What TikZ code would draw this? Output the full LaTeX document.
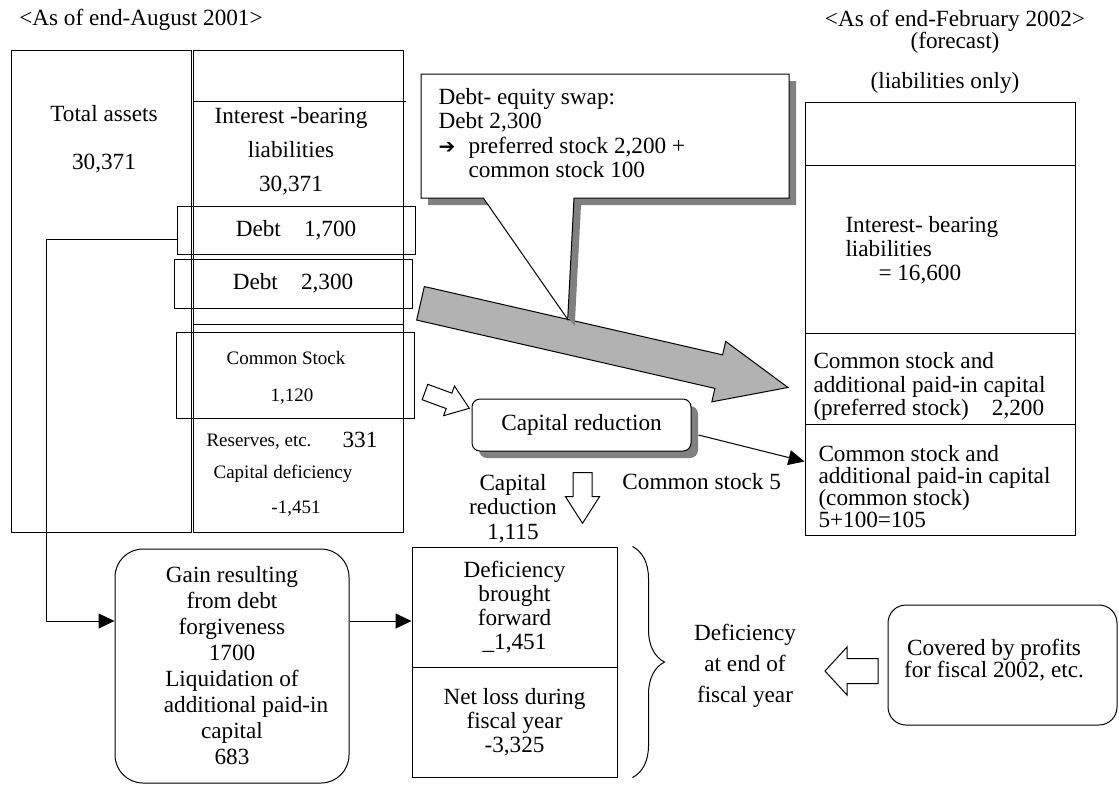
\documentclass[tikz,border=0pt]{standalone}
\usepackage{fontspec}
\setmainfont{Liberation Serif}
\newfontfamily\arrowfont{DejaVu Sans}
\usetikzlibrary{positioning,shadows,arrows.meta,decorations.pathreplacing}
\tikzset {
    cell/.style={
        draw=black,
        rectangle, % plain frame
        inner sep=0pt,
        align=center,
    },
    txt/.style={
        inner sep=0pt,
        align=center,
    },
    smalltext/.style={
        font=\fontsize{9.5}{11}\selectfont,
    },
    roundbox/.style={
        draw=black,
        fill=white,
        rectangle,
        inner sep=0pt,
        align=center,
    },
    shadowbox/.style={
        draw=black,
        fill=white,
        rectangle,
        rounded corners=4pt,
        inner sep=0pt,
        align=center,
        drop shadow={shadow xshift=3.5pt, shadow yshift=-3.5pt, fill=black!50, opacity=1},
    },
    hollow/.style={
        draw=black,
        fill=white,
    },
    conn/.style={
        draw=black,
        ->,
    },
}

\begin{document}
\begin{tikzpicture}
[x=0.5pt, y=-0.5pt, line width=0.5pt, font=\fontsize{11.6}{11.75}\selectfont, >={Triangle[length=8pt,width=7.5pt]}]
\useasboundingbox (0,0) rectangle (1119,784);

% headings
\node[txt] (titleL) at (141,20) {<As of end-August 2001>};
\node[txt, font=\fontsize{11.6}{11.25}\selectfont] (titleR) at (955,32) {<As of end-February 2002>\\(forecast)};
\node[txt] (liabonly) at (945,83) {(liabilities only)};

% balance sheet, end-August 2001
\node[cell, minimum width=90pt, minimum height=241pt] (assets) at (101,291) {};
\node[cell, minimum width=105pt, minimum height=241pt] (liab) at (298,291) {};
\draw (liab.west |- 0,101) -- ([xshift=1pt]liab.east |- 0,101);
\draw (liab.west |- 0,324) -- (liab.east |- 0,324);
\node[txt, font=\fontsize{11.6}{24}\selectfont] (totassets) at (104,139) {Total assets\\30,371};
\node[txt, font=\fontsize{11.6}{17}\selectfont] (ibl) at (291,151) {Interest -bearing\\liabilities\\30,371};
\node[cell, minimum width=119pt, minimum height=24pt] (debtA) at (296,230) {Debt\quad 1,700};
\node[cell, minimum width=119pt, minimum height=24.5pt] (debtB) at (293,283.5) {Debt\quad 2,300};
\node[cell, minimum width=119pt, minimum height=43pt] (comstk) at (295,375) {};
\node[txt, smalltext] (comstklbl) at (286,358) {Common Stock};
\node[txt, smalltext] (comstkval) at (292,397) {1,120};
\node[txt, smalltext, anchor=west] (reserves) at (206,442) {Reserves, etc.};
\node[txt] (resval) at (360,440) {331};
\node[txt, smalltext] (capdef) at (283,474) {Capital deficiency};
\node[txt, smalltext] (capdefval) at (296,509) {-1,451};

% liabilities, end-February 2002
\node[cell, minimum width=135pt, minimum height=31.75pt] (rtop) at (940,133.75) {};
\node[cell, minimum width=135pt, minimum height=83.75pt] (ribl) at (940,249.25) {};
\node[cell, minimum width=135pt, minimum height=45.5pt] (rpref) at (940,378.5) {};
\node[cell, minimum width=135pt, minimum height=55.5pt] (rcom) at (940,479.5) {};
\node[txt, anchor=west, align=left, font=\fontsize{11.6}{12}\selectfont] (riblt) at (845,250) {Interest- bearing\\liabilities\\\hspace*{16.5pt}= 16,600};
\node[txt, anchor=west, align=left] (rpreft) at (813,386.5) {Common stock and\\additional paid-in capital\\(preferred stock)\quad 2,200};
\node[txt, anchor=west, align=left, font=\fontsize{11.6}{11}\selectfont] (rcomt) at (818,486.5) {Common stock and\\additional paid-in capital\\(common stock)\\5+100=105};

% debt-equity swap
\begin{scope}[shift={(420.5,303.3)}, rotate=-12.9]
\filldraw[fill=black!30] (0,-17.2) -- (306,-17.2) -- (306,-31) -- (377,0) -- (306,31) -- (306,17.2) -- (0,17.2) -- cycle;
\end{scope}
\begin{scope}[shift={(7,7)}]
\fill[black!50] (421,74) -- (789,74) -- (789,198) -- (574,198) -- (567.7,319.3) -- (483.3,198) -- (421,198) -- cycle;
\end{scope}
\filldraw[fill=white] (421,74) -- (789,74) -- (789,198) -- (574,198) -- (567.7,319.3) -- (483.3,198) -- (421,198) -- cycle;
\node[txt, anchor=west, align=left, font=\fontsize{11.6}{12.3}\selectfont] (swap) at (438,133) {Debt- equity swap:\\Debt 2,300\\\makebox[15pt][l]{\arrowfont\fontsize{10}{10}\selectfont ➔}preferred stock 2,200 +\\\hspace*{15pt}common stock 100};

% capital reduction
\begin{scope}[shift={(425,392)}, rotate=-20.2]
\draw[hollow] (0,-8.2) -- (25.6,-8.2) -- (25.6,-15.8) -- (47.2,0) -- (25.6,15.8) -- (25.6,8.2) -- (0,8.2) -- cycle;
\end{scope}
\node[shadowbox, minimum width=109.5pt, minimum height=26pt] (capred) at (581.5,425) {Capital reduction};
\coordinate (capout) at ([xshift=3.5pt, yshift=-5pt]capred.east);
\coordinate (comin) at ([yshift=9pt]rcom.west);
\draw[conn] (capout) -- (comin);
\node[txt] (cs5) at (701.7,481.7) {Common stock 5};
\draw[hollow] (573,472.7) -- (592,472.7) -- (592,496.7) -- (599.5,496.7) -- (582.5,523.3) -- (565.5,496.7) -- (573,496.7) -- cycle;
\node[txt, font=\fontsize{11.6}{12.25}\selectfont] (redlbl) at (513,508.5) {Capital\\reduction\\1,115};

% deficiency
\node[roundbox, rounded corners=14pt, minimum width=117pt, minimum height=117pt, font=\fontsize{11.6}{13}\selectfont] (gain) at (232,666) {Gain resulting\\from debt\\forgiveness\\1700\\Liquidation of\\\hspace*{14pt}additional paid-in\\capital\\683};
\node[cell, minimum width=102.5pt, minimum height=60pt, font=\fontsize{11.6}{12}\selectfont] (defA) at (514.5,607) {Deficiency\\brought\\forward\\\_1,451};
\node[cell, minimum width=102.5pt, minimum height=55pt, font=\fontsize{11.6}{12}\selectfont] (defB) at (514.5,722) {Net loss during\\fiscal year\\-3,325};
\draw[decorate, decoration={brace, amplitude=16pt}] ([xshift=7.5pt]defA.north east) -- ([xshift=7.5pt]defB.south east);
\node[txt, font=\fontsize{11.6}{15.5}\selectfont] (defend) at (745,666) {Deficiency\\at end of\\fiscal year};
\node[roundbox, rounded corners=9pt, minimum width=114.5pt, minimum height=60pt] (covered) at (1002.5,665) {};
\node[txt, font=\fontsize{11.6}{11}\selectfont] (coveredt) at (994,660) {Covered by profits\\for fiscal 2002, etc.};
\draw[hollow] (878,658.5) -- (847,658.5) -- (847,647) -- (825,671) -- (847,695) -- (847,683.5) -- (878,683.5) -- cycle;

\coordinate (turnA) at (46,621);
\draw[conn] ([yshift=-4.5pt]debtA.west) -| (turnA) -- (turnA -| gain.west);
\coordinate (gainout) at ([yshift=22.5pt]gain.east);
\draw[conn] (gainout) -- (gainout -| defA.west);
\end{tikzpicture}
\end{document}
